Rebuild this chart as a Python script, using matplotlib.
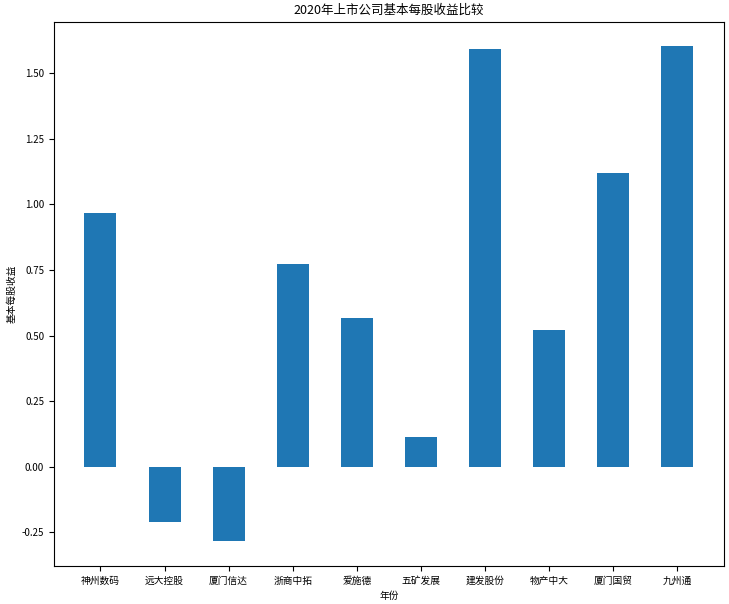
import matplotlib
matplotlib.use("Agg")
import matplotlib.pyplot as plt

plt.rcParams["font.family"] = ["Noto Sans CJK SC", "DejaVu Sans"]
plt.rcParams["axes.unicode_minus"] = False

companies = ["神州数码", "远大控股", "厦门信达", "浙商中拓", "爱施德",
             "五矿发展", "建发股份", "物产中大", "厦门国贸", "九州通"]
eps = [0.968, -0.21, -0.285, 0.773, 0.566, 0.111, 1.592, 0.520, 1.121, 1.603]

fig, ax = plt.subplots(figsize=(7.29, 6.04), dpi=100)
fig.subplots_adjust(left=0.074, right=0.993, top=0.964, bottom=0.063)

ax.bar(range(len(companies)), eps, width=0.5, color="#1f77b4")
ax.set_xticks(range(len(companies)))
ax.set_xticklabels(companies, fontsize=7)
ax.tick_params(axis="y", labelsize=7)
ax.set_xlabel("年份", fontsize=7)
ax.set_ylabel("基本每股收益", fontsize=7)
ax.set_title("2020年上市公司基本每股收益比较", fontsize=9)

fig.savefig("out.png", dpi=100)
